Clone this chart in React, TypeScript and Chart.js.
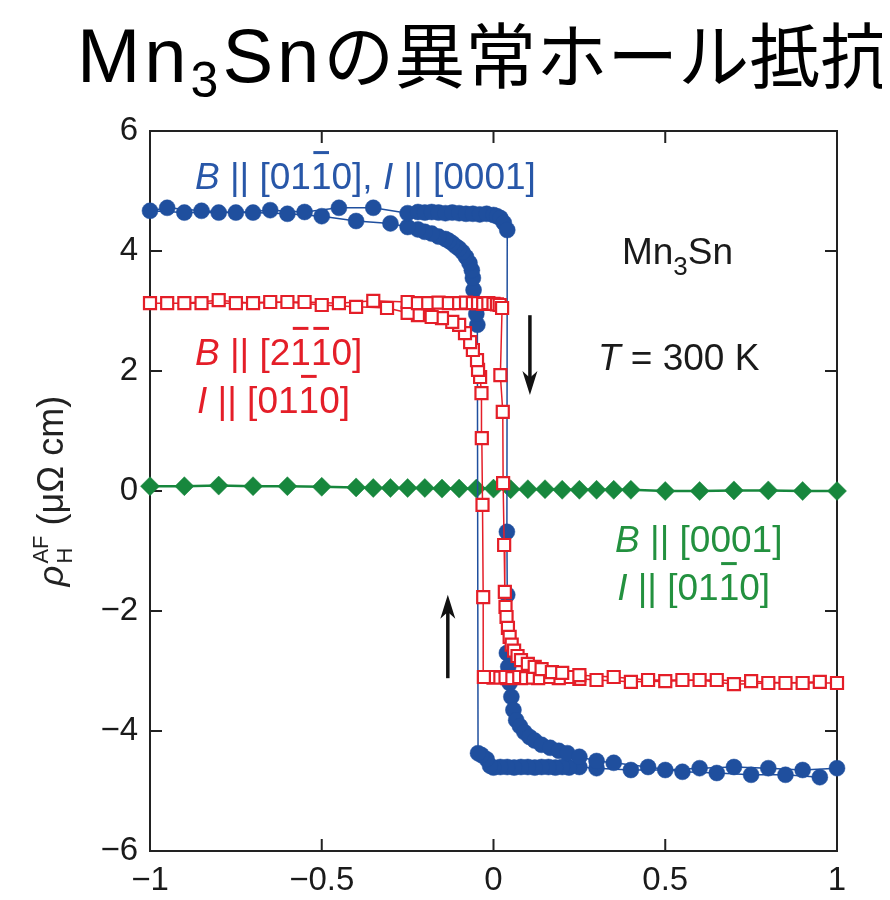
import React, { useEffect, useRef } from 'react';
import { Chart, registerables } from 'chart.js';

Chart.register(...registerables);

// ---------- data ----------
const xTicks = [-1, -0.5, 0, 0.5, 1];
const yTicks = [-6, -4, -2, 0, 2, 4, 6];

// Blue: B || [01-10], I || [0001]  (field sweep down, then sweep up)
const blueDownX = [1.0, 0.9, 0.8, 0.7, 0.6, 0.5, 0.4, 0.3, 0.25, 0.22, 0.2, 0.18, 0.16, 0.14, 0.12, 0.1, 0.08, 0.06, 0.04, 0.02, 0.0, -0.01, -0.02, -0.035, -0.045,
  -0.047, -0.05, -0.055, -0.058, -0.06, -0.063, -0.07, -0.08, -0.09, -0.1, -0.11, -0.12, -0.13, -0.14, -0.16, -0.18, -0.2, -0.22, -0.25, -0.3, -0.4, -0.5, -0.6, -0.7, -0.8, -0.9, -1.0];
const blueDownY = [-4.62, -4.65, -4.62, -4.6, -4.62, -4.65, -4.65, -4.62, -4.6, -4.61, -4.6, -4.61, -4.6, -4.6, -4.61, -4.6, -4.6, -4.61, -4.6, -4.6, -4.61, -4.58, -4.47, -4.4, -4.37,
  2.77, 2.95, 3.15, 3.35, 3.55, 3.68, 3.8, 3.9, 3.98, 4.04, 4.08, 4.13, 4.17, 4.2, 4.24, 4.29, 4.32, 4.36, 4.4, 4.46, 4.5, 4.58, 4.62, 4.64, 4.64, 4.64, 4.67];
const blueUpX = [-0.95, -0.85, -0.75, -0.65, -0.55, -0.45, -0.35, -0.25, -0.22, -0.2, -0.18, -0.16, -0.14, -0.12, -0.1, -0.08, -0.06, -0.04, -0.02, 0.0, 0.01, 0.02, 0.03, 0.04,
  0.039, 0.04, 0.039, 0.043, 0.047, 0.052, 0.058, 0.066, 0.077, 0.09, 0.105, 0.12, 0.14, 0.165, 0.19, 0.215, 0.25, 0.3, 0.35, 0.45, 0.55, 0.65, 0.75, 0.85, 0.95];
const blueUpY = [4.72, 4.67, 4.64, 4.68, 4.65, 4.72, 4.72, 4.63, 4.65, 4.64, 4.65, 4.64, 4.63, 4.64, 4.63, 4.62, 4.62, 4.61, 4.62, 4.6, 4.58, 4.55, 4.47, 4.35,
  -0.68, -1.73, -2.7, -2.93, -3.2, -3.43, -3.65, -3.82, -3.92, -4.02, -4.1, -4.16, -4.23, -4.28, -4.33, -4.37, -4.43, -4.5, -4.53, -4.6, -4.68, -4.7, -4.73, -4.73, -4.77];

// Red: B || [2-1-10], I || [01-10]
const redDownX = [1.0, 0.9, 0.8, 0.7, 0.6, 0.5, 0.4, 0.3, 0.25, 0.22, 0.19, 0.16, 0.13, 0.1, 0.08, 0.06, 0.04, 0.02, 0.0, -0.015, -0.028,
  -0.03, -0.032, -0.034, -0.035, -0.039, -0.045, -0.048, -0.06, -0.068, -0.083, -0.1, -0.12, -0.15, -0.18, -0.22, -0.25, -0.31, -0.4, -0.5, -0.6, -0.7, -0.8, -0.9, -1.0];
const redDownY = [-3.2, -3.2, -3.2, -3.22, -3.15, -3.17, -3.18, -3.15, -3.13, -3.1, -3.12, -3.1, -3.12, -3.11, -3.12, -3.1, -3.12, -3.1, -3.11, -3.1, -3.1,
  -1.77, -0.23, 0.88, 1.63, 1.9, 2.02, 2.18, 2.35, 2.48, 2.63, 2.77, 2.82, 2.88, 2.9, 2.93, 2.97, 3.05, 3.07, 3.1, 3.15, 3.13, 3.18, 3.13, 3.13];
const redUpX = [-0.95, -0.85, -0.75, -0.65, -0.55, -0.45, -0.35, -0.25, -0.22, -0.19, -0.16, -0.13, -0.1, -0.08, -0.06, -0.045, -0.03, -0.015, 0.0, 0.01, 0.018, 0.025,
  0.02, 0.027, 0.028, 0.031, 0.033, 0.035, 0.038, 0.042, 0.047, 0.053, 0.06, 0.07, 0.08, 0.1, 0.12, 0.14, 0.17, 0.2, 0.25, 0.35, 0.45, 0.55, 0.65, 0.75, 0.85, 0.95];
const redUpY = [3.13, 3.13, 3.13, 3.15, 3.15, 3.13, 3.17, 3.15, 3.13, 3.13, 3.14, 3.13, 3.13, 3.14, 3.13, 3.13, 3.12, 3.13, 3.12, 3.11, 3.1, 3.05,
  1.93, 1.32, 0.13, -0.9, -1.68, -1.93, -2.1, -2.28, -2.43, -2.56, -2.66, -2.75, -2.82, -2.88, -2.93, -2.97, -3.02, -3.03, -3.07, -3.1, -3.15, -3.15, -3.15, -3.17, -3.2, -3.18];

// Green: B || [0001], I || [01-10]
const greenX = [-1, -0.9, -0.8, -0.7, -0.6, -0.5, -0.4, -0.35, -0.3, -0.25, -0.2, -0.15, -0.1, -0.05, 0, 0.05, 0.1, 0.15, 0.2, 0.25, 0.3, 0.35, 0.4, 0.5, 0.6, 0.7, 0.8, 0.9, 1.0];
const greenY = [0.08, 0.08, 0.09, 0.08, 0.08, 0.07, 0.06, 0.05, 0.05, 0.05, 0.05, 0.04, 0.04, 0.04, 0.04, 0.03, 0.03, 0.03, 0.02, 0.02, 0.02, 0.02, 0.02, 0.0, 0.0, 0.01, 0.01, 0.0, 0.0];

// annotations (text runs, anchored at data coordinates: left edge, baseline)
type Run = { t: string; it?: boolean; bar?: boolean; sub?: boolean };
const blueLabel: Run[] = [{ t: 'B', it: true }, { t: ' || [01' }, { t: '1', bar: true }, { t: '0], ' }, { t: 'I', it: true }, { t: ' || [0001]' }];
const redLabel1: Run[] = [{ t: 'B', it: true }, { t: ' || [2' }, { t: '1', bar: true }, { t: '1', bar: true }, { t: '0]' }];
const redLabel2: Run[] = [{ t: 'I', it: true }, { t: ' || [01' }, { t: '1', bar: true }, { t: '0]' }];
const greenLabel1: Run[] = [{ t: 'B', it: true }, { t: ' || [0001]' }];
const greenLabel2: Run[] = [{ t: 'I', it: true }, { t: ' || [01' }, { t: '1', bar: true }, { t: '0]' }];
const mnLabel: Run[] = [{ t: 'Mn' }, { t: '3', sub: true }, { t: 'Sn' }];
const tLabel: Run[] = [{ t: 'T', it: true }, { t: ' = 300 K' }];

const BLUE = '#1f4f9e';
const RED = '#e41e28';
const GREEN = '#17873d';
const BLACK = '#1a1a1a';

const annotations = [
  { runs: blueLabel, x: -0.869, y: 5.03, color: '#2857a8' },
  { runs: mnLabel, x: 0.374, y: 3.78, color: BLACK },
  { runs: tLabel, x: 0.304, y: 2.02, color: BLACK },
  { runs: redLabel1, x: -0.869, y: 2.1, color: RED },
  { runs: redLabel2, x: -0.863, y: 1.3, color: RED },
  { runs: greenLabel1, x: 0.354, y: -1.02, color: '#23913f' },
  { runs: greenLabel2, x: 0.36, y: -1.82, color: '#23913f' },
];

// sweep-direction arrows
const arrowX = [0.106, -0.133];
const arrowFromY = [2.93, -3.12];
const arrowToY = [1.6, -1.73];

const FONT = '"Liberation Sans", Arial, Helvetica, sans-serif';
const W = 874;
const H = 884;

const pts = (xs: number[], ys: number[]) => xs.map((x, i) => ({ x, y: ys[i] }));
const fmt = (v: number) => (v < 0 ? '\u2212' : '') + String(Math.abs(v));

function drawRuns(ctx: CanvasRenderingContext2D, runs: Run[], x: number, y: number, size: number, color: string) {
  let cx = x;
  ctx.fillStyle = color;
  ctx.textAlign = 'left';
  ctx.textBaseline = 'alphabetic';
  for (const r of runs) {
    const fs = r.sub ? Math.round(size * 0.7) : size;
    ctx.font = `${r.it ? 'italic ' : ''}${fs}px ${FONT}`;
    const dy = r.sub ? size * 0.3 : 0;
    ctx.fillText(r.t, cx, y + dy);
    const w = ctx.measureText(r.t).width;
    if (r.bar) ctx.fillRect(cx + w * 0.12, y - size * 1.03, w * 0.76, 3);
    cx += w;
  }
}

const framePlugin = {
  id: 'frame',
  beforeDatasetsDraw(chart: any) {
    const { ctx, chartArea: a, scales } = chart;
    ctx.save();
    ctx.strokeStyle = '#222';
    ctx.lineWidth = 2;
    ctx.strokeRect(a.left, a.top, a.right - a.left, a.bottom - a.top);
    ctx.beginPath();
    const tl = 12;
    for (const v of xTicks) {
      const px = scales.x.getPixelForValue(v);
      ctx.moveTo(px, a.bottom); ctx.lineTo(px, a.bottom - tl);
      ctx.moveTo(px, a.top); ctx.lineTo(px, a.top + tl);
    }
    for (const v of yTicks) {
      const py = scales.y.getPixelForValue(v);
      ctx.moveTo(a.left, py); ctx.lineTo(a.left + tl, py);
      ctx.moveTo(a.right, py); ctx.lineTo(a.right - tl, py);
    }
    ctx.stroke();
    ctx.restore();
  },
  afterDraw(chart: any) {
    const { ctx, chartArea: a, scales } = chart;
    const sx = scales.x, sy = scales.y;
    ctx.save();
    // text annotations
    for (const an of annotations) {
      drawRuns(ctx, an.runs, sx.getPixelForValue(an.x), sy.getPixelForValue(an.y), 37, an.color);
    }
    // arrows
    ctx.strokeStyle = '#111';
    ctx.fillStyle = '#111';
    for (let i = 0; i < arrowX.length; i++) {
      const px = sx.getPixelForValue(arrowX[i]);
      const y0 = sy.getPixelForValue(arrowFromY[i]);
      const y1 = sy.getPixelForValue(arrowToY[i]);
      const dir = y1 > y0 ? 1 : -1;
      const hl = 24, hw = 7.5;
      ctx.lineWidth = 3.5;
      ctx.beginPath();
      ctx.moveTo(px, y0);
      ctx.lineTo(px, y1 - dir * hl * 0.7);
      ctx.stroke();
      ctx.beginPath();
      ctx.moveTo(px, y1);
      ctx.lineTo(px - hw, y1 - dir * hl);
      ctx.lineTo(px, y1 - dir * hl * 0.72);
      ctx.lineTo(px + hw, y1 - dir * hl);
      ctx.closePath();
      ctx.fill();
    }
    // y-axis title: rho_H^AF (μΩ cm)
    ctx.translate(55, (a.top + a.bottom) / 2);
    ctx.rotate(-Math.PI / 2);
    ctx.fillStyle = '#222';
    ctx.textBaseline = 'alphabetic';
    ctx.textAlign = 'left';
    const big = 36, small = 22;
    ctx.font = `italic ${big}px ${FONT}`;
    const wRho = ctx.measureText('\u03c1').width;
    ctx.font = `${small}px ${FONT}`;
    const wAF = ctx.measureText('AF').width;
    const wH = ctx.measureText('H').width;
    ctx.font = `${big}px ${FONT}`;
    const rest = ' (\u03bc\u03a9 cm)';
    const wRest = ctx.measureText(rest).width;
    const total = wRho + 2 + Math.max(wAF, wH) + wRest;
    let cx = -total / 2;
    ctx.font = `italic ${big}px ${FONT}`;
    ctx.fillText('\u03c1', cx, 0);
    cx += wRho + 2;
    ctx.font = `${small}px ${FONT}`;
    ctx.fillText('AF', cx, -15);
    ctx.fillText('H', cx, 9);
    cx += Math.max(wAF, wH);
    ctx.font = `${big}px ${FONT}`;
    ctx.fillText(rest, cx, 0);
    ctx.restore();
  },
};

export default function App() {
  const ref = useRef<HTMLCanvasElement | null>(null);

  useEffect(() => {
    if (!ref.current) return;
    const tickFont = { family: FONT, size: 33 };
    const chart = new Chart(ref.current, {
      type: 'scatter',
      data: {
        datasets: [
          {
            label: 'B || [2-1-10], I || [01-10]',
            data: [...pts(redDownX, redDownY), ...pts(redUpX, redUpY)],
            showLine: true,
            borderColor: RED,
            borderWidth: 1.5,
            pointStyle: 'rect',
            pointRadius: 8.5,
            pointBorderWidth: 2.2,
            pointBorderColor: RED,
            pointBackgroundColor: '#ffffff',
            tension: 0,
            clip: false,
          } as any,
          {
            label: 'B || [01-10], I || [0001]',
            data: [...pts(blueDownX, blueDownY), ...pts(blueUpX, blueUpY)],
            showLine: true,
            borderColor: BLUE,
            borderWidth: 1.5,
            pointStyle: 'circle',
            pointRadius: 8,
            pointBorderWidth: 0.5,
            pointBorderColor: BLUE,
            pointBackgroundColor: BLUE,
            tension: 0,
            clip: false,
          } as any,
          {
            label: 'B || [0001], I || [01-10]',
            data: pts(greenX, greenY),
            showLine: true,
            borderColor: GREEN,
            borderWidth: 2.5,
            pointStyle: 'rectRot',
            pointRadius: 9.5,
            pointBorderWidth: 0.5,
            pointBorderColor: GREEN,
            pointBackgroundColor: GREEN,
            tension: 0,
            clip: false,
          } as any,
        ],
      },
      options: {
        responsive: false,
        animation: false,
        events: [],
        layout: { padding: { left: 0, right: 45, top: 123, bottom: 0 } },
        plugins: { legend: { display: false }, tooltip: { enabled: false }, title: { display: false } },
        scales: {
          x: {
            type: 'linear',
            min: -1,
            max: 1,
            position: 'bottom',
            grid: { display: false, drawTicks: false },
            border: { display: false },
            ticks: {
              font: tickFont,
              color: BLACK,
              padding: 10,
              maxRotation: 0,
              autoSkip: false,
              callback: (v: any) => fmt(Number(v)),
            },
            afterBuildTicks: (s: any) => { s.ticks = xTicks.map((value) => ({ value })); },
            afterFit: (s: any) => { s.height = 41; },
          },
          y: {
            type: 'linear',
            min: -6,
            max: 6,
            position: 'left',
            grid: { display: false, drawTicks: false },
            border: { display: false },
            ticks: {
              font: tickFont,
              color: BLACK,
              padding: 12,
              autoSkip: false,
              callback: (v: any) => fmt(Number(v)),
            },
            afterBuildTicks: (s: any) => { s.ticks = yTicks.map((value) => ({ value })); },
            afterFit: (s: any) => { s.width = 142; },
          },
        },
      } as any,
      plugins: [framePlugin],
    });
    return () => chart.destroy();
  }, []);

  return (
    <div style={{ position: 'relative', width: W, height: H }}>
      <canvas ref={ref} width={W} height={H} style={{ position: 'absolute', left: 0, top: 0, width: W, height: H }} />
      <div
        style={{
          position: 'absolute',
          left: 69,
          top: 7,
          fontFamily: '"Liberation Sans", Arial, sans-serif',
          fontSize: 76,
          lineHeight: '72px',
          color: '#000',
          whiteSpace: 'nowrap',
        }}
      >
        <span style={{ letterSpacing: 4 }}>
          Mn<span style={{ fontSize: 50, position: 'relative', top: 15 }}>3</span>Sn
        </span>
        <span style={{ fontFamily: '"Noto Sans CJK JP", "Noto Sans CJK SC", sans-serif', fontSize: 71 }}>の異常ホール抵抗</span>
      </div>
    </div>
  );
}
